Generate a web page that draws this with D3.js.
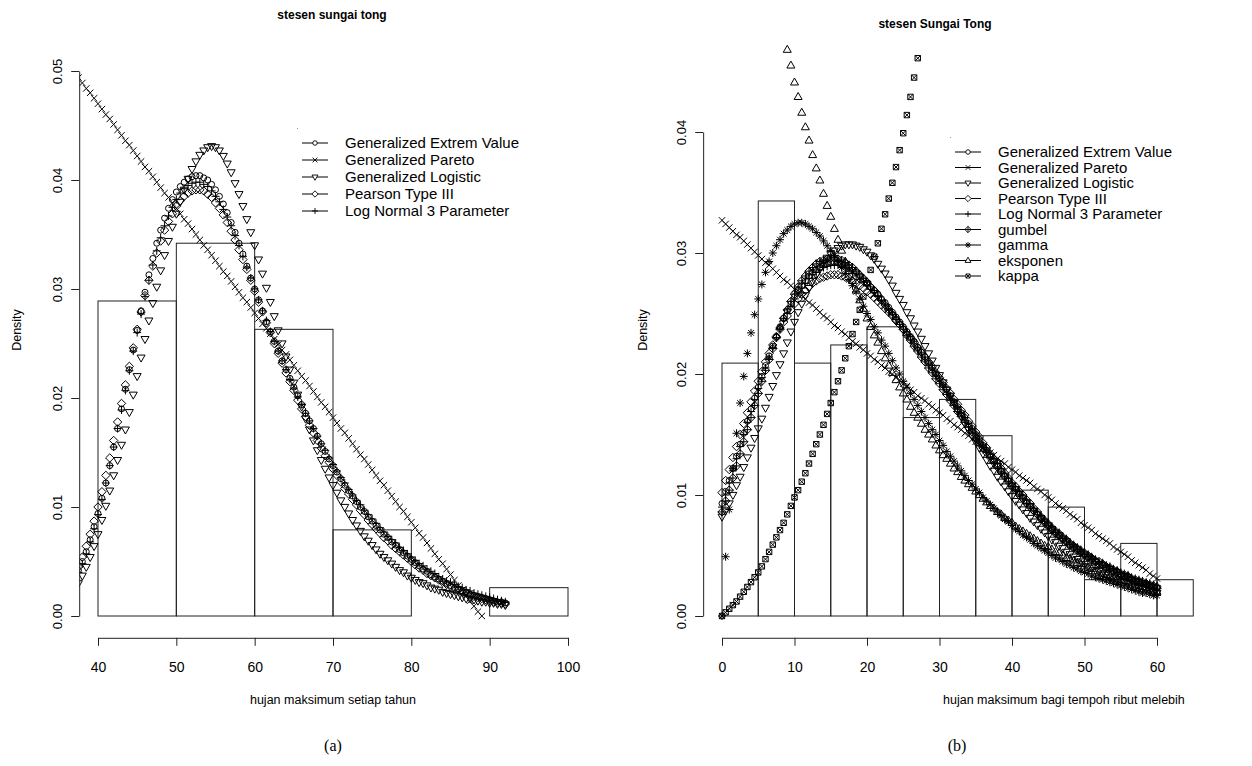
<!DOCTYPE html>
<html><head><meta charset="utf-8">
<script src="https://cdn.jsdelivr.net/npm/d3@7"></script>
<style>body{margin:0;background:#fff}svg text{font-family:"Liberation Sans",Arial,sans-serif;fill:#000}</style>
</head><body><svg id="c" width="1252" height="766"></svg>
<script>
// ---------------- LEFT PANEL DATA (stesen sungai tong) ----------------
const leftBreaks = [40,50,60,70,80,90,100];
const leftDensity = [0.0289,0.0342,0.0263,0.0079,0.0000,0.0026];
const leftXTicks = [40,50,60,70,80,90,100];
const leftYTicks = [0,0.01,0.02,0.03,0.04,0.05];
const leftX = [37.5,38,38.5,39,39.5,40,40.5,41,41.5,42,
42.5,43,43.5,44,44.5,45,45.5,46,46.5,47,
47.5,48,48.5,49,49.5,50,50.5,51,51.5,52,
52.5,53,53.5,54,54.5,55,55.5,56,56.5,57,
57.5,58,58.5,59,59.5,60,60.5,61,61.5,62,
62.5,63,63.5,64,64.5,65,65.5,66,66.5,67,
67.5,68,68.5,69,69.5,70,70.5,71,71.5,72,
72.5,73,73.5,74,74.5,75,75.5,76,76.5,77,
77.5,78,78.5,79,79.5,80,80.5,81,81.5,82,
82.5,83,83.5,84,84.5,85,85.5,86,86.5,87,
87.5,88,88.5,89,89.5,90,90.5,91,91.5,92];
const leftGEV = [.0042,.0050,.0059,.0070,.0082,.0094,.0108,.0122,.0138,.0155,
.0172,.0190,.0208,.0226,.0244,.0262,.0280,.0297,.0313,.0328,
.0342,.0354,.0365,.0374,.0382,.0389,.0394,.0398,.0401,.0403,
.0404,.0404,.0402,.0400,.0396,.0391,.0385,.0378,.0370,.0361,
.0352,.0342,.0332,.0321,.0310,.0300,.0290,.0280,.0270,.0261,
.0252,.0243,.0234,.0226,.0218,.0210,.0202,.0194,.0186,.0179,
.0172,.0165,.0158,.0151,.0144,.0138,.0132,.0126,.0120,.0115,
.0110,.0105,.0100,.0096,.0091,.0087,.0083,.0079,.0075,.0072,
.0068,.0065,.0061,.0058,.0055,.0052,.0049,.0046,.0043,.0041,
.0038,.0036,.0034,.0032,.0030,.0028,.0026,.0025,.0023,.0022,
.0020,.0019,.0018,.0017,.0016,.0015,.0014,.0013,.0013,.0012];
const leftGP = [.0494,.0489,.0484,.0480,.0475,.0470,.0465,.0460,.0456,.0451,
.0446,.0441,.0436,.0432,.0427,.0422,.0417,.0412,.0408,.0403,
.0398,.0393,.0388,.0384,.0379,.0374,.0369,.0364,.0360,.0355,
.0350,.0345,.0340,.0336,.0331,.0326,.0321,.0316,.0312,.0307,
.0302,.0297,.0292,.0288,.0283,.0278,.0273,.0268,.0264,.0259,
.0254,.0249,.0244,.0240,.0235,.0230,.0225,.0220,.0216,.0211,
.0206,.0201,.0196,.0192,.0187,.0182,.0177,.0172,.0168,.0163,
.0158,.0153,.0148,.0144,.0139,.0134,.0129,.0124,.0120,.0115,
.0110,.0105,.0100,.0096,.0091,.0086,.0081,.0076,.0072,.0067,
.0062,.0057,.0052,.0048,.0043,.0038,.0033,.0028,.0024,.0019,
.0014,.0009,.0004,.0000];
const leftGL = [.0030,.0037,.0045,.0054,.0064,.0075,.0088,.0101,.0115,.0129,
.0143,.0157,.0171,.0187,.0203,.0220,.0237,.0254,.0271,.0287,
.0302,.0317,.0331,.0344,.0357,.0369,.0380,.0391,.0401,.0410,
.0417,.0423,.0427,.0430,.0431,.0430,.0427,.0422,.0415,.0407,
.0397,.0387,.0376,.0364,.0352,.0340,.0327,.0314,.0301,.0288,
.0275,.0262,.0250,.0238,.0226,.0214,.0203,.0192,.0181,.0171,
.0161,.0152,.0143,.0135,.0127,.0120,.0113,.0106,.0100,.0094,
.0088,.0083,.0078,.0073,.0069,.0065,.0061,.0057,.0054,.0051,
.0048,.0045,.0042,.0040,.0037,.0035,.0033,.0031,.0030,.0028,
.0026,.0025,.0024,.0022,.0021,.0020,.0019,.0018,.0017,.0016,
.0016,.0015,.0014,.0013,.0013,.0012,.0012,.0011,.0011,.0010];
const leftPE3 = [.0045,.0054,.0064,.0075,.0087,.0100,.0114,.0129,.0145,.0161,
.0178,.0195,.0212,.0229,.0246,.0263,.0279,.0294,.0308,.0321,
.0333,.0344,.0354,.0362,.0369,.0376,.0381,.0385,.0388,.0390,
.0391,.0391,.0390,.0387,.0384,.0379,.0374,.0368,.0361,.0353,
.0345,.0336,.0327,.0318,.0308,.0298,.0288,.0279,.0269,.0260,
.0250,.0241,.0232,.0223,.0215,.0207,.0198,.0190,.0183,.0175,
.0168,.0161,.0154,.0147,.0141,.0135,.0129,.0123,.0117,.0112,
.0107,.0102,.0097,.0093,.0088,.0084,.0080,.0076,.0072,.0069,
.0065,.0062,.0059,.0056,.0053,.0050,.0047,.0044,.0042,.0039,
.0037,.0035,.0033,.0031,.0029,.0027,.0025,.0024,.0022,.0021,
.0019,.0018,.0017,.0016,.0015,.0014,.0013,.0012,.0012,.0011];
const leftLN3 = [.0040,.0048,.0057,.0068,.0080,.0093,.0107,.0122,.0138,.0155,
.0172,.0189,.0207,.0225,.0243,.0260,.0277,.0293,.0308,.0322,
.0335,.0347,.0358,.0367,.0375,.0382,.0388,.0392,.0395,.0397,
.0398,.0398,.0396,.0394,.0390,.0385,.0380,.0373,.0366,.0358,
.0349,.0340,.0330,.0320,.0310,.0300,.0290,.0280,.0271,.0261,
.0252,.0243,.0234,.0226,.0217,.0209,.0201,.0194,.0186,.0179,
.0172,.0165,.0158,.0152,.0145,.0139,.0133,.0127,.0122,.0116,
.0111,.0106,.0102,.0097,.0093,.0089,.0085,.0081,.0077,.0073,
.0070,.0067,.0063,.0060,.0057,.0054,.0051,.0048,.0046,.0043,
.0041,.0039,.0036,.0034,.0032,.0031,.0029,.0027,.0026,.0024,
.0023,.0021,.0020,.0019,.0018,.0017,.0016,.0015,.0014,.0013];

// ---------------- RIGHT PANEL DATA (stesen Sungai Tong) ----------------
const rightBreaks = [0,5,10,15,20,25,30,35,40,45,50,55,60,65];
const rightDensity = [0.0209,0.0343,0.0209,0.0224,0.0239,0.0164,0.0179,0.0149,0.0104,0.0090,0.0030,0.0060,0.0030];
const rightXTicks = [0,10,20,30,40,50,60];
const rightYTicks = [0,0.01,0.02,0.03,0.04];
const rightX = [0,0.5,1,1.5,2,2.5,3,3.5,4,4.5,
5,5.5,6,6.5,7,7.5,8,8.5,9,9.5,
10,10.5,11,11.5,12,12.5,13,13.5,14,14.5,
15,15.5,16,16.5,17,17.5,18,18.5,19,19.5,
20,20.5,21,21.5,22,22.5,23,23.5,24,24.5,
25,25.5,26,26.5,27,27.5,28,28.5,29,29.5,
30,30.5,31,31.5,32,32.5,33,33.5,34,34.5,
35,35.5,36,36.5,37,37.5,38,38.5,39,39.5,
40,40.5,41,41.5,42,42.5,43,43.5,44,44.5,
45,45.5,46,46.5,47,47.5,48,48.5,49,49.5,
50,50.5,51,51.5,52,52.5,53,53.5,54,54.5,
55,55.5,56,56.5,57,57.5,58,58.5,59,59.5,60];
const rightGEV = [.0093,.0103,.0112,.0122,.0132,.0142,.0151,.0161,.0171,.0180,
.0189,.0198,.0207,.0215,.0223,.0231,.0239,.0246,.0252,.0258,
.0264,.0269,.0273,.0277,.0281,.0284,.0286,.0288,.0290,.0291,
.0292,.0292,.0292,.0291,.0290,.0288,.0286,.0284,.0281,.0278,
.0275,.0272,.0269,.0266,.0262,.0259,.0255,.0251,.0247,.0243,
.0239,.0235,.0231,.0227,.0222,.0218,.0214,.0209,.0205,.0200,
.0196,.0191,.0187,.0182,.0177,.0173,.0168,.0164,.0159,.0155,
.0150,.0146,.0141,.0137,.0132,.0128,.0124,.0120,.0116,.0112,
.0108,.0105,.0101,.0098,.0094,.0091,.0087,.0084,.0080,.0077,
.0074,.0071,.0068,.0066,.0063,.0061,.0058,.0056,.0054,.0052,
.0050,.0048,.0046,.0045,.0043,.0042,.0040,.0039,.0037,.0036,
.0034,.0033,.0031,.0030,.0029,.0028,.0027,.0026,.0025,.0024,.0023];
const rightGP = [.0327,.0324,.0321,.0318,.0315,.0313,.0310,.0307,.0304,.0301,
.0298,.0295,.0292,.0290,.0287,.0284,.0281,.0278,.0276,.0273,
.0270,.0267,.0265,.0262,.0259,.0257,.0254,.0251,.0248,.0246,
.0243,.0240,.0238,.0235,.0233,.0230,.0227,.0225,.0222,.0220,
.0217,.0215,.0212,.0210,.0207,.0205,.0202,.0200,.0197,.0195,
.0192,.0190,.0187,.0185,.0182,.0180,.0178,.0175,.0173,.0170,
.0168,.0166,.0163,.0161,.0158,.0156,.0154,.0151,.0149,.0146,
.0144,.0142,.0139,.0137,.0135,.0133,.0130,.0128,.0126,.0123,
.0121,.0119,.0116,.0114,.0112,.0110,.0107,.0105,.0103,.0100,
.0098,.0096,.0093,.0091,.0089,.0087,.0084,.0082,.0080,.0077,
.0075,.0073,.0071,.0068,.0066,.0064,.0062,.0060,.0057,.0055,
.0053,.0051,.0049,.0046,.0044,.0042,.0040,.0038,.0035,.0033,.0031];
const rightGL = [.0082,.0087,.0093,.0100,.0108,.0115,.0123,.0131,.0139,.0147,
.0155,.0163,.0172,.0181,.0190,.0199,.0208,.0217,.0226,.0235,
.0243,.0251,.0258,.0265,.0271,.0277,.0282,.0287,.0292,.0296,
.0299,.0302,.0304,.0306,.0307,.0307,.0307,.0306,.0305,.0303,
.0301,.0298,.0295,.0291,.0287,.0283,.0278,.0273,.0267,.0262,
.0257,.0251,.0246,.0240,.0235,.0229,.0223,.0217,.0211,.0205,
.0199,.0193,.0187,.0182,.0176,.0170,.0165,.0159,.0154,.0149,
.0144,.0139,.0134,.0129,.0124,.0120,.0115,.0111,.0107,.0103,
.0099,.0095,.0092,.0088,.0085,.0081,.0078,.0075,.0072,.0069,
.0066,.0063,.0061,.0058,.0056,.0053,.0051,.0049,.0047,.0045,
.0043,.0041,.0040,.0038,.0037,.0035,.0034,.0032,.0031,.0030,
.0029,.0028,.0027,.0025,.0024,.0023,.0022,.0022,.0021,.0020,.0019];
const rightPE3 = [.0102,.0112,.0121,.0131,.0140,.0150,.0159,.0168,.0177,.0186,
.0194,.0202,.0210,.0217,.0224,.0231,.0237,.0243,.0248,.0253,
.0258,.0262,.0266,.0269,.0272,.0275,.0277,.0279,.0280,.0281,
.0282,.0282,.0282,.0281,.0280,.0279,.0277,.0275,.0273,.0271,
.0268,.0266,.0263,.0260,.0257,.0254,.0251,.0248,.0244,.0241,
.0237,.0233,.0230,.0226,.0222,.0218,.0214,.0210,.0206,.0201,
.0197,.0193,.0188,.0184,.0179,.0175,.0170,.0166,.0161,.0157,
.0152,.0148,.0143,.0139,.0134,.0130,.0126,.0122,.0118,.0114,
.0110,.0107,.0103,.0100,.0096,.0093,.0089,.0086,.0082,.0079,
.0076,.0073,.0070,.0068,.0065,.0063,.0060,.0058,.0056,.0054,
.0052,.0050,.0048,.0046,.0045,.0043,.0041,.0040,.0038,.0037,
.0035,.0034,.0033,.0031,.0030,.0029,.0028,.0027,.0026,.0025,.0024];
const rightLN3 = [.0090,.0100,.0110,.0120,.0130,.0140,.0150,.0160,.0169,.0179,
.0188,.0197,.0205,.0214,.0222,.0230,.0237,.0244,.0250,.0256,
.0262,.0267,.0271,.0275,.0279,.0282,.0284,.0286,.0288,.0289,
.0290,.0290,.0290,.0289,.0287,.0285,.0283,.0281,.0278,.0276,
.0273,.0270,.0267,.0264,.0261,.0258,.0254,.0251,.0247,.0243,
.0239,.0235,.0231,.0227,.0222,.0218,.0214,.0209,.0205,.0200,
.0196,.0191,.0187,.0182,.0177,.0173,.0168,.0164,.0159,.0155,
.0151,.0147,.0142,.0138,.0134,.0130,.0126,.0122,.0118,.0114,
.0110,.0107,.0103,.0100,.0096,.0093,.0089,.0086,.0083,.0080,
.0077,.0074,.0071,.0069,.0066,.0064,.0061,.0059,.0057,.0055,
.0053,.0051,.0049,.0047,.0045,.0044,.0042,.0041,.0039,.0038,
.0036,.0035,.0034,.0032,.0031,.0030,.0029,.0028,.0027,.0026,.0025];
const rightGumbel = [.0086,.0095,.0104,.0114,.0124,.0134,.0144,.0154,.0164,.0174,
.0184,.0194,.0203,.0212,.0221,.0230,.0238,.0246,.0253,.0260,
.0266,.0272,.0277,.0281,.0285,.0288,.0291,.0293,.0294,.0295,
.0296,.0296,.0295,.0294,.0292,.0290,.0288,.0285,.0282,.0279,
.0276,.0272,.0269,.0265,.0261,.0257,.0253,.0249,.0245,.0241,
.0237,.0232,.0228,.0223,.0219,.0214,.0210,.0205,.0201,.0196,
.0192,.0187,.0183,.0178,.0174,.0169,.0165,.0160,.0156,.0152,
.0147,.0143,.0139,.0135,.0131,.0127,.0123,.0119,.0115,.0111,
.0107,.0104,.0100,.0097,.0093,.0090,.0087,.0084,.0081,.0078,
.0075,.0072,.0069,.0067,.0064,.0062,.0059,.0057,.0055,.0053,
.0051,.0049,.0047,.0045,.0043,.0042,.0040,.0039,.0037,.0036,
.0034,.0033,.0032,.0030,.0029,.0028,.0027,.0026,.0025,.0024,.0023];
const rightGamma = [.0000,.0049,.0088,.0122,.0151,.0176,.0198,.0217,.0234,.0249,
.0262,.0274,.0284,.0293,.0300,.0306,.0311,.0316,.0319,.0322,
.0324,.0325,.0325,.0324,.0322,.0320,.0317,.0314,.0310,.0306,
.0302,.0298,.0293,.0288,.0283,.0278,.0273,.0268,.0262,.0256,
.0250,.0245,.0239,.0234,.0228,.0223,.0217,.0211,.0205,.0200,
.0194,.0189,.0184,.0179,.0174,.0169,.0164,.0159,.0154,.0150,
.0145,.0141,.0136,.0132,.0128,.0124,.0120,.0116,.0112,.0109,
.0105,.0102,.0098,.0095,.0092,.0089,.0086,.0083,.0080,.0078,
.0075,.0072,.0070,.0067,.0065,.0063,.0060,.0058,.0056,.0054,
.0052,.0050,.0048,.0047,.0045,.0043,.0042,.0040,.0039,.0037,
.0036,.0035,.0033,.0032,.0031,.0030,.0029,.0028,.0027,.0026,
.0025,.0024,.0023,.0022,.0021,.0020,.0019,.0019,.0018,.0017,.0017];
const rightEksponen = [null,null,null,null,null,null,null,null,null,null,
null,null,null,null,null,null,null,null,.0468,.0455,
.0441,.0429,.0416,.0404,.0393,.0381,.0370,.0360,.0349,.0339,
.0330,.0320,.0311,.0302,.0293,.0285,.0277,.0269,.0261,.0254,
.0246,.0239,.0232,.0226,.0219,.0213,.0207,.0201,.0195,.0189,
.0184,.0179,.0173,.0168,.0164,.0159,.0154,.0150,.0146,.0141,
.0137,.0133,.0130,.0126,.0122,.0119,.0115,.0112,.0109,.0106,
.0103,.0100,.0097,.0094,.0091,.0089,.0086,.0084,.0081,.0079,
.0077,.0074,.0072,.0070,.0068,.0066,.0064,.0062,.0060,.0058,
.0057,.0055,.0053,.0052,.0050,.0048,.0047,.0046,.0044,.0043,
.0041,.0040,.0039,.0037,.0036,.0035,.0034,.0033,.0032,.0031,
.0030,.0029,.0028,.0027,.0026,.0025,.0024,.0023,.0022,.0021,.0020];
const rightKappa = [.0000,.0003,.0006,.0009,.0012,.0016,.0020,.0024,.0028,.0032,
.0036,.0041,.0047,.0053,.0059,.0065,.0071,.0077,.0084,.0091,
.0098,.0104,.0111,.0118,.0126,.0134,.0142,.0150,.0158,.0167,
.0176,.0185,.0194,.0203,.0213,.0223,.0233,.0243,.0253,.0264,
.0275,.0286,.0297,.0308,.0320,.0332,.0345,.0358,.0371,.0385,
.0399,.0414,.0429,.0445,.0461,.0477];

const leftLegend = ["Generalized Extrem Value","Generalized Pareto","Generalized Logistic","Pearson Type III"," Log Normal 3 Parameter"];
const rightLegend = ["Generalized Extrem Value","Generalized Pareto","Generalized Logistic","Pearson Type III"," Log Normal 3 Parameter","gumbel","gamma","eksponen","kappa"];

// ---------------- drawing ----------------
const svg = d3.select('#c');

function symPath(type, r){
  switch(type){
    case 'circle': return `M${r},0A${r},${r},0,1,1,${-r},0A${r},${r},0,1,1,${r},0Z`;
    case 'times': return `M${-r},${-r}L${r},${r}M${-r},${r}L${r},${-r}`;
    case 'plus': return `M${-r},0H${r}M0,${-r}V${r}`;
    case 'triDown': return `M${-r},${-0.65*r}L${r},${-0.65*r}L0,${1.1*r}Z`;
    case 'triUp': return `M${-r},${0.65*r}L${r},${0.65*r}L0,${-1.1*r}Z`;
    case 'diamond': return `M0,${-r}L${r},0L0,${r}L${-r},0Z`;
    case 'diamondPlus': return symPath('diamond',r)+symPath('plus',r);
    case 'asterisk': {const a=r*0.72; return symPath('plus',r)+`M${-a},${-a}L${a},${a}M${-a},${a}L${a},${-a}`;}
    case 'squareX': {const a=r; return `M${-a},${-a}H${a}V${a}H${-a}Z`+`M${-a},${-a}L${a},${a}M${-a},${a}L${a},${-a}`;}
  }
}
const symSize = {circle:3,times:3.2,plus:4,triDown:4,triUp:4,diamond:4.2,diamondPlus:4.2,asterisk:4,squareX:2.7};

function panel(cfg){
  const g = svg.append('g');
  const x = d3.scaleLinear().domain(cfg.xDom).range(cfg.xRange);
  const y = d3.scaleLinear().domain(cfg.yDom).range(cfg.yRange);
  const px0 = x(cfg.xlim[0]), px1 = x(cfg.xlim[1]);
  const py0 = y(cfg.ylim[0]), py1 = y(cfg.ylim[1]);
  svg.append('clipPath').attr('id',cfg.id).append('rect')
    .attr('x',px0).attr('y',py1).attr('width',px1-px0).attr('height',py0-py1);

  // histogram
  g.append('g').selectAll('rect').data(cfg.density).join('rect')
    .attr('x',(d,i)=>x(cfg.breaks[i])).attr('width',(d,i)=>x(cfg.breaks[i+1])-x(cfg.breaks[i]))
    .attr('y',d=>y(d)).attr('height',d=>y(0)-y(d))
    .attr('fill','none').attr('stroke','#222').attr('stroke-width',1);

  // curves
  const cg = g.append('g').attr('clip-path',`url(#${cfg.id})`);
  cfg.series.forEach(s=>{
    const pts = cfg.xs.map((xv,i)=>[xv,s.values[i]]).filter(d=>d[1]!=null);
    cg.append('g').selectAll('path').data(pts).join('path')
      .attr('transform',d=>`translate(${x(d[0])},${y(d[1])})`)
      .attr('d',symPath(s.sym,symSize[s.sym]))
      .attr('fill','none').attr('stroke','#000').attr('stroke-width',1);
  });

  // axes
  const ax = g.append('g').attr('transform',`translate(0,${py0})`)
    .call(d3.axisBottom(x).tickValues(cfg.xTicks).tickSize(8).tickSizeOuter(0).tickFormat(d3.format('d')));
  ax.selectAll('text').attr('y',24).attr('dy','0.71em').style('font-size','14px');
  const ay = g.append('g').attr('transform',`translate(${px0},0)`)
    .call(d3.axisLeft(y).tickValues(cfg.yTicks).tickSize(8).tickSizeOuter(0).tickFormat(d3.format('.2f')));
  ay.selectAll('text').attr('transform','rotate(-90)').attr('x',0).attr('y',-17).attr('dy',0)
    .attr('text-anchor','middle').style('font-size','13px');
  [ax,ay].forEach(a=>{a.select('.domain').attr('stroke','#222');a.selectAll('line').attr('stroke','#222');a.attr('font-family',null);});

  // legend
  const lg = g.append('g');
  cfg.legend.forEach((t,i)=>{
    const yy = cfg.legY + i*cfg.legStep;
    lg.append('line').attr('x1',cfg.legX).attr('x2',cfg.legX+26).attr('y1',yy).attr('y2',yy).attr('stroke','#000');
    const sy = cfg.series[i].sym;
    lg.append('path').attr('transform',`translate(${cfg.legX+13},${yy})`)
      .attr('d',symPath(sy,symSize[sy]*0.75)).attr('fill','#fff').attr('stroke','#000').attr('stroke-width',0.9);
    lg.append('text').attr('x',cfg.legX+43).attr('y',yy).attr('dy','0.35em').style('font-size','15px').text(t);
  });
  lg.append('rect').attr('x',cfg.legX-5).attr('y',cfg.legY-15).attr('width',1).attr('height',1).attr('fill','#999');

  // titles
  g.append('text').attr('x',cfg.titleX).attr('y',cfg.titleY).attr('text-anchor','middle')
    .style('font-size','12px').style('font-weight','bold').text(cfg.title);
  g.append('text').attr('transform',`translate(${cfg.ylabX},330) rotate(-90)`).attr('text-anchor','middle')
    .style('font-size','12.5px').text('Density');
  g.append('text').attr('x',cfg.xlabX).attr('y',704).attr('text-anchor',cfg.xlabAnchor)
    .style('font-size','12.5px').text(cfg.xlab);
  g.append('text').attr('x',cfg.capX).attr('y',751).attr('text-anchor','middle')
    .style('font-family','"Liberation Serif","Times New Roman",serif').style('font-size','16px').text(cfg.cap);
}

panel({id:'clipL', xDom:[40,100], xRange:[98,568], yDom:[0,0.05], yRange:[616,71],
  xlim:[37.6,102.4], ylim:[-0.002,0.052], breaks:leftBreaks, density:leftDensity,
  xTicks:leftXTicks, yTicks:leftYTicks, xs:leftX,
  series:[{values:leftGEV,sym:'circle'},{values:leftGP,sym:'times'},{values:leftGL,sym:'triDown'},{values:leftPE3,sym:'diamond'},{values:leftLN3,sym:'plus'}],
  legend:leftLegend, legX:302, legY:143, legStep:17,
  title:'stesen sungai tong', titleX:332, titleY:19, ylabX:21, xlab:'hujan maksimum setiap tahun', xlabX:333, xlabAnchor:'middle', capX:333, cap:'(a)'});

panel({id:'clipR', xDom:[0,60], xRange:[722,1157], yDom:[0,0.04], yRange:[616,132],
  xlim:[-2.6,67.6], ylim:[-0.0018,0.0473], breaks:rightBreaks, density:rightDensity,
  xTicks:rightXTicks, yTicks:rightYTicks, xs:rightX,
  series:[{values:rightGEV,sym:'circle'},{values:rightGP,sym:'times'},{values:rightGL,sym:'triDown'},{values:rightPE3,sym:'diamond'},{values:rightLN3,sym:'plus'},
          {values:rightGumbel,sym:'diamondPlus'},{values:rightGamma,sym:'asterisk'},{values:rightEksponen,sym:'triUp'},{values:rightKappa,sym:'squareX'}],
  legend:rightLegend, legX:955, legY:152, legStep:15.5,
  title:'stesen Sungai Tong', titleX:935, titleY:28, ylabX:647, xlab:'hujan maksimum bagi tempoh ribut melebih', xlabX:943, xlabAnchor:'start', capX:957, cap:'(b)'});
</script>
</body></html>
